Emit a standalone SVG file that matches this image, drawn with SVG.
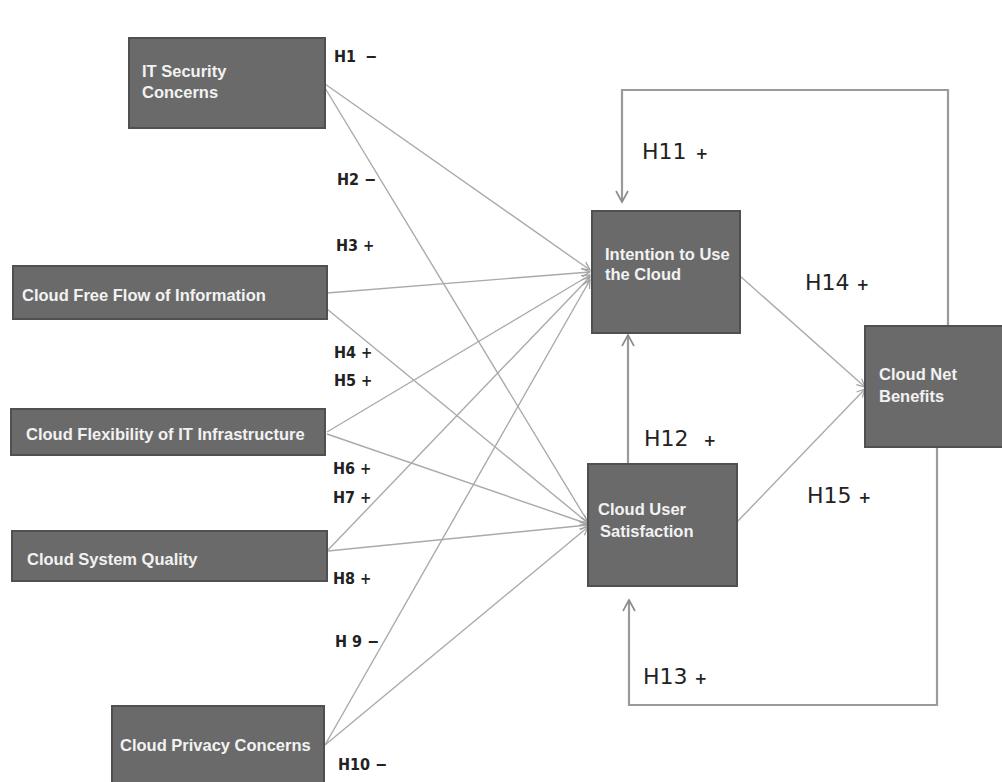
<svg xmlns="http://www.w3.org/2000/svg" width="1002" height="782" viewBox="0 0 1002 782">
<style>
.box{fill:#6a6a6a;stroke:#505050;stroke-width:2}
.nt{font-family:"Liberation Sans",Arial,sans-serif;font-weight:bold;font-size:16.5px;fill:#f2f2f2}
.h{font-family:"DejaVu Sans Condensed","DejaVu Sans",sans-serif;font-weight:bold;font-size:16px;fill:#222}
.hb{font-family:"DejaVu Sans",Verdana,sans-serif;font-size:22px;fill:#222}
.p{font-size:15px;font-weight:bold}
.ln{stroke:#aaaaaa;stroke-width:1.4;fill:none}
.fb{stroke:#9a9a9a;stroke-width:2.2;fill:none}
</style>
<defs>
<marker id="v" markerWidth="14" markerHeight="14" refX="12" refY="7" orient="auto" markerUnits="userSpaceOnUse">
<path d="M1,1 L12,7 L1,13" fill="none" stroke="#8a8a8a" stroke-width="1.6"/>
</marker>
<marker id="s" markerWidth="10" markerHeight="10" refX="9" refY="5" orient="auto" markerUnits="userSpaceOnUse">
<path d="M1,1 L9,5 L1,9" fill="none" stroke="#a0a0a0" stroke-width="1.2"/>
</marker>
</defs>
<rect width="1002" height="782" fill="#ffffff"/>
<g id="connectors">
<line class="ln" x1="325" y1="84" x2="590" y2="270" marker-end="url(#s)"/>
<line class="ln" x1="325" y1="88" x2="588" y2="522" marker-end="url(#s)"/>
<line class="ln" x1="327" y1="293" x2="590" y2="272" marker-end="url(#s)"/>
<line class="ln" x1="327" y1="309" x2="588" y2="523" marker-end="url(#s)"/>
<line class="ln" x1="327" y1="432" x2="590" y2="275" marker-end="url(#s)"/>
<line class="ln" x1="327" y1="434" x2="588" y2="524" marker-end="url(#s)"/>
<line class="ln" x1="328" y1="550" x2="590" y2="277" marker-end="url(#s)"/>
<line class="ln" x1="328" y1="551" x2="588" y2="525" marker-end="url(#s)"/>
<line class="ln" x1="325" y1="745" x2="590" y2="280" marker-end="url(#s)"/>
<line class="ln" x1="325" y1="745" x2="588" y2="527" marker-end="url(#s)"/>
<line class="ln" x1="740" y1="276" x2="865" y2="387" marker-end="url(#s)"/>
<line class="ln" x1="737" y1="522" x2="865" y2="389" marker-end="url(#s)"/>
<polyline class="fb" points="948,326 948,90 622,90 622,202" marker-end="url(#v)"/>
<line class="fb" x1="628" y1="463" x2="628" y2="335" marker-end="url(#v)"/>
<polyline class="fb" points="937,448 937,705 629,705 629,600" marker-end="url(#v)"/>
</g>
<g id="n1"><rect class="box" x="129" y="38" width="196" height="90"/><text class="nt" x="142" y="77">IT Security</text><text class="nt" x="142" y="98">Concerns</text></g>
<g id="n2"><rect class="box" x="13" y="266" width="314" height="53"/><text class="nt" x="22" y="301">Cloud Free Flow of Information</text></g>
<g id="n3"><rect class="box" x="11" y="409" width="314" height="46"/><text class="nt" x="26" y="440">Cloud Flexibility of IT Infrastructure</text></g>
<g id="n4"><rect class="box" x="12" y="531" width="315" height="50"/><text class="nt" x="27" y="565">Cloud System Quality</text></g>
<g id="n5"><rect class="box" x="112" y="706" width="212" height="80"/><text class="nt" x="120" y="751">Cloud Privacy Concerns</text></g>
<g id="n6"><rect class="box" x="592" y="211" width="148" height="122"/><text class="nt" x="605" y="260">Intention to Use</text><text class="nt" x="605" y="280">the Cloud</text></g>
<g id="n7"><rect class="box" x="588" y="464" width="149" height="122"/><text class="nt" x="598" y="515">Cloud User</text><text class="nt" x="600" y="537">Satisfaction</text></g>
<g id="n8"><rect class="box" x="865" y="326" width="140" height="121"/><text class="nt" x="879" y="380">Cloud Net</text><text class="nt" x="879" y="402">Benefits</text></g>
<g id="labels">
<text class="h" x="334" y="62">H1 <tspan dx="4">−</tspan></text>
<text class="h" x="337" y="185">H2 −</text>
<text class="h" x="336" y="251">H3 <tspan class="p">+</tspan></text>
<text class="h" x="334" y="358">H4 <tspan class="p">+</tspan></text>
<text class="h" x="334" y="386">H5 <tspan class="p">+</tspan></text>
<text class="h" x="333" y="474">H6 <tspan class="p">+</tspan></text>
<text class="h" x="333" y="503">H7 <tspan class="p">+</tspan></text>
<text class="h" x="333" y="584">H8 <tspan class="p">+</tspan></text>
<text class="h" x="335" y="647">H 9 −</text>
<text class="h" x="338" y="770">H10 −</text>
<text class="hb" x="642" y="159">H11 <tspan class="p" dx="2">+</tspan></text>
<text class="hb" x="805" y="290">H14 <tspan class="p">+</tspan></text>
<text class="hb" x="644" y="446">H12 <tspan class="p" dx="8">+</tspan></text>
<text class="hb" x="807" y="503">H15 <tspan class="p">+</tspan></text>
<text class="hb" x="643" y="684">H13 <tspan class="p">+</tspan></text>
</g>
</svg>
